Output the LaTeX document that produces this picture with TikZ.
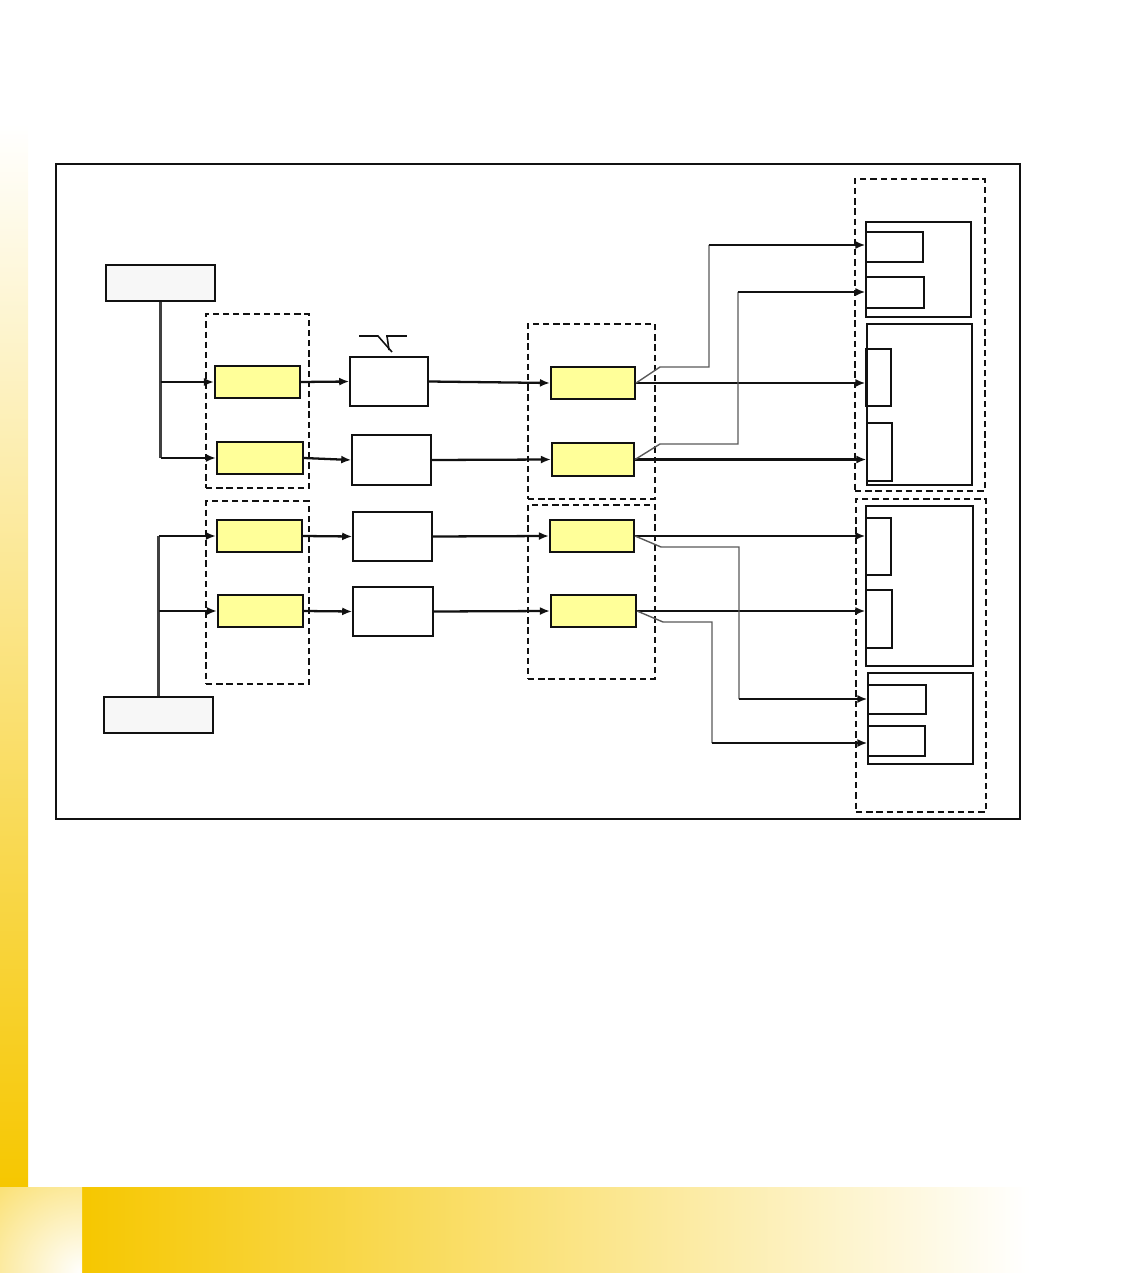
\documentclass[tikz,border=0pt]{standalone}
\usetikzlibrary{arrows.meta,positioning,calc}
\usepackage{xcolor}
\definecolor{barY}{HTML}{F6C700}
\definecolor{padY}{HTML}{FFFF99}
\definecolor{srcgray}{HTML}{F7F7F7}
\definecolor{dark}{HTML}{111111}
\tikzset{
  srcbox/.style={draw=dark, line width=0.7pt, fill=srcgray, minimum width=2.18cm, minimum height=0.72cm, inner sep=0pt},
  ybox/.style={draw=dark, line width=1.2pt, fill=padY, minimum height=0.64cm, inner sep=0pt},
  wbox/.style={draw=dark, line width=0.9pt, fill=white, inner sep=0pt},
  grp/.style={draw=dark, dash pattern=on 3.6pt off 2.2pt, line width=1.3pt, inner sep=0pt},
  rgrp/.style={grp, line width=1.6pt},
  cellbox/.style={draw=dark, line width=0.7pt, inner sep=0pt},
  arrow/.style={-{Latex[length=2mm,width=1.6mm]}, line width=1.3pt, draw=dark},
  thinline/.style={line width=0.8pt, draw=black!65}
}

\begin{document}
\begin{tikzpicture}[x=0.02cm, y=-0.02cm]
  \useasboundingbox (0,0) rectangle (1134,1273);

  % page decoration
  \shade[top color=white, bottom color=barY] (0,124) rectangle (28,1187);
  \shade[left color=barY, right color=white] (82,1187) rectangle (1030,1273);
  \begin{scope}
    \clip (0,1187) rectangle (82,1273);
    \shade[inner color=white, outer color=barY] (82,1273) circle (4.4cm);
  \end{scope}

  % outer frame
  \draw[dark, line width=0.7pt] (56,164) rectangle (1020,819);

  % sources
  \node[srcbox] (src1) at (160.5,283) {};
  \node[srcbox] (src2) at (158.5,715) {};

  % dashed groups
  \node[grp, minimum width=2.06cm, minimum height=3.48cm] (grpA) at (257.5,401) {};
  \node[grp, minimum width=2.06cm, minimum height=3.66cm] (grpB) at (257.5,592.5) {};
  \node[grp, minimum width=2.54cm, minimum height=3.5cm] (grpC) at (591.5,411.5) {};
  \node[grp, minimum width=2.54cm, minimum height=3.48cm] (grpD) at (591.5,592) {};
  \node[rgrp, minimum width=2.6cm, minimum height=6.24cm] (grpE) at (920,335) {};
  \node[rgrp, minimum width=2.6cm, minimum height=6.26cm] (grpF) at (921,655.5) {};

  % first yellow column
  \node[ybox, minimum width=1.70cm] (y1) at (257.5,382) {};
  \node[ybox, minimum width=1.72cm] (y2) at (260,458) {};
  \node[ybox, minimum width=1.70cm] (y3) at (259.5,536) {};
  \node[ybox, minimum width=1.70cm] (y4) at (260.5,611) {};

  % white middle boxes
  \node[wbox, minimum width=1.56cm, minimum height=0.98cm] (w1) at (389,381.5) {};
  \node[wbox, minimum width=1.58cm, minimum height=1.0cm] (w2) at (391.5,460) {};
  \node[wbox, minimum width=1.58cm, minimum height=0.98cm] (w3) at (392.5,536.5) {};
  \node[wbox, minimum width=1.60cm, minimum height=0.98cm] (w4) at (393,611.5) {};

  % switch mark over w1
  \draw[dark, line width=0.9pt] (359,336) -- (378,336) -- (392,352);
  \draw[dark, line width=0.9pt] (386,336) -- (407,336);
  \draw[dark, line width=0.9pt] (387,336) -- (389,350);

  % second yellow column
  \node[ybox, minimum width=1.68cm] (r1) at (593,383) {};
  \node[ybox, minimum width=1.64cm, minimum height=0.66cm] (r2) at (593,459.5) {};
  \node[ybox, minimum width=1.68cm] (r3) at (592,536) {};
  \node[ybox, minimum width=1.70cm] (r4) at (593.5,611) {};

  % right cells, upper group
  \node[cellbox, minimum width=2.1cm, minimum height=1.9cm] (e1) at (918.5,269.5) {};
  \node[cellbox, minimum width=1.14cm, minimum height=0.6cm] (e1a) at (894.5,247) {};
  \node[cellbox, minimum width=1.16cm, minimum height=0.62cm] (e1b) at (895,292.5) {};
  \node[cellbox, minimum width=2.1cm, minimum height=3.22cm] (e2) at (919.5,404.5) {};
  \node[cellbox, minimum width=0.5cm, minimum height=1.14cm] (e2a) at (878.5,377.5) {};
  \node[cellbox, minimum width=0.5cm, minimum height=1.16cm] (e2b) at (879.5,452) {};

  % right cells, lower group
  \node[cellbox, minimum width=2.14cm, minimum height=3.2cm] (f1) at (919.5,586) {};
  \node[cellbox, minimum width=0.5cm, minimum height=1.14cm] (f1a) at (878.5,546.5) {};
  \node[cellbox, minimum width=0.52cm, minimum height=1.16cm] (f1b) at (879,619) {};
  \node[cellbox, minimum width=2.1cm, minimum height=1.82cm] (f2) at (920.5,718.5) {};
  \node[cellbox, minimum width=1.16cm, minimum height=0.58cm] (f2a) at (897,699.5) {};
  \node[cellbox, minimum width=1.14cm, minimum height=0.6cm] (f2b) at (896.5,741) {};

  % feeds from sources
  \draw[black!75, line width=1.3pt] (src1.south) -- (src1.south |- y2.west);
  \draw[arrow] (src1.south |- y1.west) -- (y1.west);
  \draw[arrow] (src1.south |- y2.west) -- (y2.west);
  \draw[black!75, line width=1.3pt] (src2.north) -- (src2.north |- y3.west);
  \draw[arrow] (src2.north |- y3.west) -- (y3.west);
  \draw[arrow] (src2.north |- y4.west) -- (y4.west);

  % yellow to white to yellow
  \foreach \i in {1,2,3,4} {
    \draw[arrow] (y\i.east) -- (w\i.west);
    \draw[arrow] (w\i.east) -- (r\i.west);
  }

  % straight outputs
  \draw[arrow] (r1.east) -- (r1.east -| e2a.west);
  \draw[arrow] (r2.east) -- (r2.east -| e2b.west);
  \draw[arrow] (r3.east) -- (r3.east -| f1a.west);
  \draw[arrow] (r4.east) -- (r4.east -| f1b.west);

  % bent outputs
  \coordinate (k1) at (709,245);
  \coordinate (k2) at (738,292);
  \coordinate (k3) at (739,699);
  \coordinate (k4) at (712,743);
  \draw[thinline] (r1.east) -- (660,367) -| (k1);
  \draw[thinline] (r2.east) -- (660,444) -| (k2);
  \draw[thinline] (r3.east) -- (661,547) -| (k3);
  \draw[thinline] (r4.east) -- (663,622) -| (k4);
  \draw[arrow] (k1) -- (k1 -| e1a.west);
  \draw[arrow] (k2) -- (k2 -| e1b.west);
  \draw[arrow] (k3) -- (k3 -| f2a.west);
  \draw[arrow] (k4) -- (k4 -| f2b.west);
\end{tikzpicture}
\end{document}
